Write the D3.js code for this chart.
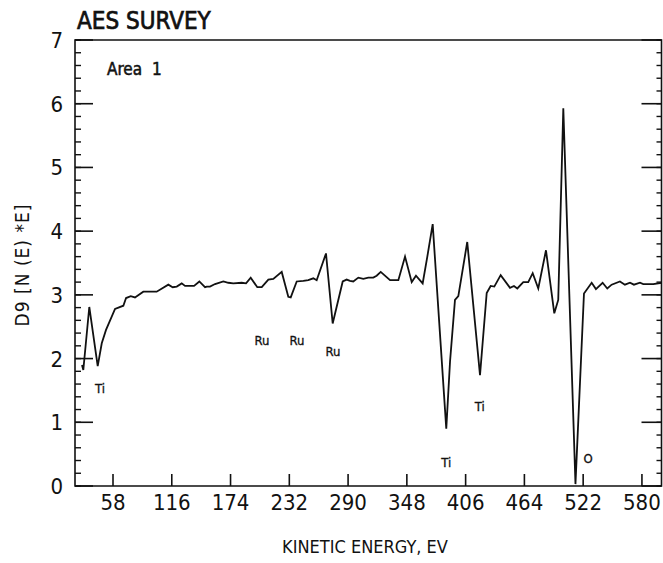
<!DOCTYPE html>
<html><head><meta charset="utf-8">
<script src="https://cdn.jsdelivr.net/npm/d3@7"></script>
<style>
html,body{margin:0;padding:0;background:#fff;}
text{font-family:"Liberation Sans Narrow","DejaVu Sans Condensed","Liberation Sans",Arial,sans-serif;fill:#111;}
</style></head>
<body><svg id="c" width="663" height="563"></svg>
<script>
const energy = [27.4,28.7,34.6,42.9,46.9,51.1,60.0,68.2,70.9,75.5,79.7,87.9,101.1,112.6,116.9,120.9,125.8,129.1,138.0,143.2,148.8,150.5,153.7,158.7,166.9,171.8,176.7,185.0,189.3,193.9,200.4,204.8,211.3,216.2,224.5,231.0,233.4,239.3,245.8,250.7,255.7,259.0,268.2,274.8,284.7,288.6,291.9,295.1,300.1,305.0,309.9,314.9,318.2,322.2,331.4,339.6,346.2,352.8,357.0,363.6,368.2,373.5,386.9,390.6,395.5,398.8,407.6,420.2,426.8,430.7,434.3,440.6,449.8,453.7,457.0,462.9,467.8,472.2,477.7,485.3,493.5,497.4,502.4,514.4,522.8,530.4,534.6,541.2,545.8,550.1,558.3,563.2,568.2,572.1,578.1,581.3,591.2,599.5];
const signal = [1.90,1.82,2.81,1.88,2.24,2.45,2.78,2.83,2.95,2.98,2.96,3.05,3.05,3.16,3.12,3.13,3.18,3.14,3.14,3.21,3.12,3.13,3.13,3.17,3.21,3.19,3.18,3.19,3.18,3.27,3.12,3.12,3.24,3.25,3.36,2.97,2.96,3.21,3.22,3.23,3.26,3.23,3.65,2.55,3.21,3.24,3.22,3.21,3.27,3.25,3.27,3.27,3.30,3.36,3.23,3.23,3.60,3.20,3.30,3.18,3.60,4.11,0.90,1.95,2.92,2.98,3.83,1.74,3.03,3.14,3.13,3.31,3.11,3.14,3.10,3.20,3.20,3.34,3.10,3.70,2.71,2.92,5.93,0.03,3.02,3.19,3.09,3.19,3.10,3.16,3.21,3.16,3.19,3.16,3.19,3.17,3.17,3.19];
const xTicks = [58,116,174,232,290,348,406,464,522,580];
const yTicks = [0,1,2,3,4,5,6,7];
const peakLabels = ["Ti","Ru","Ru","Ru","Ti","Ti","O"];
const peakX = [45.2,205,239.6,275,387,420,527];
const peakY = [1.46,2.21,2.21,2.04,0.30,1.18,0.36];

const svg = d3.select("#c");
const L=75, R=661.5, T=40, B=486;
const x = d3.scaleLinear().domain([20,600]).range([74.5,662.2]);
const y = d3.scaleLinear().domain([0,7]).range([B,T]);

// frame
svg.append("path").attr("d",`M${L},${T}H${R}V${B}H${L}Z`).attr("fill","none").attr("stroke","#111").attr("stroke-width",1.6);

// left axis ticks
const minorY = d3.range(0,7.001,0.2).map(v=>+v.toFixed(2));
const gl = svg.append("g").attr("transform",`translate(${L},0)`);
gl.selectAll("line.mi").data(minorY).join("line").attr("class","mi")
  .attr("x1",0).attr("x2",6).attr("y1",d=>y(d)).attr("y2",d=>y(d)).attr("stroke","#111").attr("stroke-width",1.4);
gl.selectAll("line.ma").data(yTicks).join("line").attr("class","ma")
  .attr("x1",0).attr("x2",18).attr("y1",d=>y(d)).attr("y2",d=>y(d)).attr("stroke","#111").attr("stroke-width",1.6);
gl.selectAll("text").data(yTicks).join("text")
  .attr("x",-12).attr("y",d=>y(d)+8).attr("text-anchor","end").attr("font-size",22).text(d=>d);

// right axis ticks
const gr = svg.append("g").attr("transform",`translate(${R},0)`);
gr.selectAll("line.mi").data(minorY).join("line").attr("class","mi")
  .attr("x1",0).attr("x2",-5).attr("y1",d=>y(d)).attr("y2",d=>y(d)).attr("stroke","#111").attr("stroke-width",1.4);
gr.selectAll("line.ma").data(yTicks).join("line").attr("class","ma")
  .attr("x1",0).attr("x2",-20).attr("y1",d=>y(d)).attr("y2",d=>y(d)).attr("stroke","#111").attr("stroke-width",1.6);

// bottom axis
const gb = svg.append("g").attr("transform",`translate(0,${B})`);
gb.selectAll("line").data(xTicks).join("line")
  .attr("x1",d=>x(d)).attr("x2",d=>x(d)).attr("y1",0).attr("y2",-12).attr("stroke","#111").attr("stroke-width",1.6);
gb.selectAll("text").data(xTicks).join("text")
  .attr("x",d=>x(d)).attr("y",24).attr("text-anchor","middle").attr("font-size",22).text(d=>d);

// curve
const line = d3.line().x((d,i)=>x(energy[i])).y(d=>y(d));
svg.append("path").datum(signal).attr("d",line).attr("fill","none").attr("stroke","#111")
  .attr("stroke-width",1.8).attr("stroke-linejoin","miter");

// peak labels
svg.selectAll("text.pk").data(peakLabels).join("text").attr("class","pk")
  .attr("x",(d,i)=>x(peakX[i])).attr("y",(d,i)=>y(peakY[i]))
  .attr("text-anchor","middle").attr("font-size",13).attr("stroke","#111").attr("stroke-width",0.3).text(d=>d);

// titles
svg.append("text").attr("x",77).attr("y",29).attr("font-size",24).attr("stroke","#111").attr("stroke-width",0.7).text("AES SURVEY");
svg.append("text").attr("x",107).attr("y",75).attr("font-size",17).attr("stroke","#111").attr("stroke-width",0.5).attr("word-spacing",5).text("Area 1");
svg.append("text").attr("x",365).attr("y",553).attr("text-anchor","middle").attr("font-size",18).text("KINETIC ENERGY, EV");
svg.append("text").attr("transform","translate(29,265) rotate(-90)").attr("text-anchor","middle")
  .attr("font-size",19).attr("letter-spacing",1).text("D9 [N (E) *E]");
</script></body></html>
